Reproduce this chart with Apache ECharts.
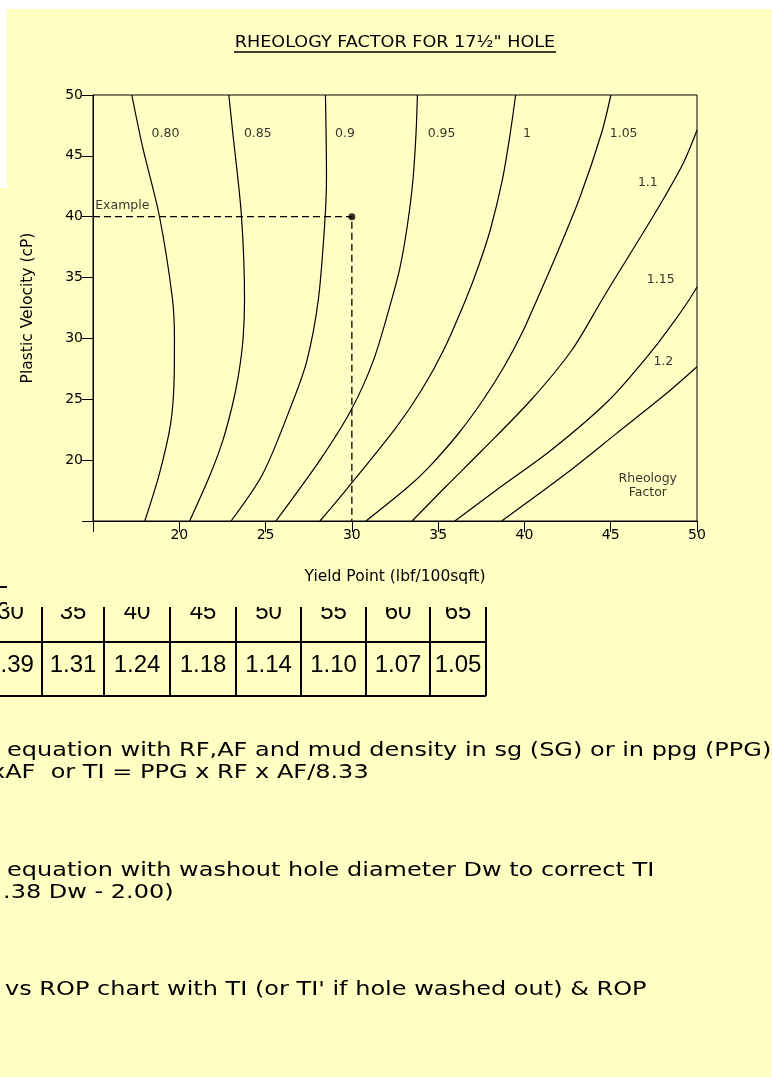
<!DOCTYPE html>
<html>
<head>
<meta charset="utf-8">
<script src="https://cdn.jsdelivr.net/npm/echarts@6/dist/echarts.min.js"></script>
<style>
  html, body { margin: 0; padding: 0; background: #FFFFC4; }
  #chart { width: 772px; height: 1077px; }
</style>
</head>
<body>
<div id="chart"></div>
<script>
// Rheology factor contours, each point is [yield point (lbf/100sqft), plastic viscosity (cP)]
const rf080 = [[17.25,50],[17.87,45.75],[18.84,40.1],[19.6,33.3],[19.72,30],[19.7,26.6],[19.5,23],[18.85,18.9],[18.0,15]];
const rf085 = [[22.87,50],[23.1,46.9],[23.6,40.1],[23.78,33.16],[23.69,29.87],[23.43,26.99],[23.08,24.53],[22.53,21.65],[21.78,18.78],[20.6,15]];
const rf090 = [[28.47,50],[28.53,43.3],[28.43,39.5],[28.05,33.1],[27.4,28.2],[26.6,24.9],[24.85,18.9],[23.0,15]];
const rf095 = [[33.8,50],[33.72,46.9],[33.54,43.02],[33.22,39.32],[32.8,35.9],[32.3,33.15],[31.25,28.2],[29.95,24.1],[28.15,20],[25.6,15]];
const rf100 = [[39.49,50],[39.18,46.88],[38.72,43.02],[38.02,38.91],[37.32,35.87],[36.59,33.16],[35.32,29.05],[34.04,25.76],[32.58,22.72],[29.8,17.79],[28.15,15]];
const rf105 = [[45.01,50],[44.47,46.88],[43.22,41.62],[41.9,37.02],[40.72,33.16],[39.86,30.44],[38.81,27.65],[37.6,24.94],[36.2,22.23],[34.47,19.43],[33.25,17.79],[30.82,15]];
const rf110 = [[50,47.1],[49.21,44.41],[48.12,41.62],[46.87,38.66],[45.19,34.8],[44.49,33.16],[42.75,29.05],[40.38,24.94],[37.57,20.83],[35.42,17.79],[33.49,15]];
const rf115 = [[50,34.22],[49.54,33.16],[48.73,31.51],[47.43,29.05],[44.91,24.94],[41.56,20.83],[38.61,17.79],[35.97,15]];
const rf120 = [[50,27.67],[48.24,25.49],[45.34,22.2],[42.44,18.92],[38.68,15]];

const curves = [rf080, rf085, rf090, rf095, rf100, rf105, rf110, rf115, rf120];

// Contour labels: [yield point, plastic viscosity, text]
const curveLabels = [
  [19.2, 46.85, '0.80'],
  [24.55, 46.85, '0.85'],
  [29.6, 46.85, '0.9'],
  [35.2, 46.85, '0.95'],
  [40.15, 46.85, '1'],
  [45.75, 46.85, '1.05'],
  [47.15, 42.75, '1.1'],
  [47.9, 34.8, '1.15'],
  [48.05, 28.1, '1.2'],
  [47.15, 17.9, 'Rheology\nFactor']
];

// Worked example: YP 30, PV 40
const examplePoint = [30, 40];
const exampleLabel = [16.7, 40.9, 'Example'];

// Tabulated rheology factor by yield point
const tableYieldPoint = [30, 35, 40, 45, 50, 55, 60, 65];
const tableRF = [1.39, 1.31, 1.24, 1.18, 1.14, 1.10, 1.07, 1.05];

// Notes under the table
const noteLines = [
  'equation with RF,AF and mud density in sg (SG) or in ppg (PPG)',
  'xAF  or TI = PPG x RF x AF/8.33',
  'equation with washout hole diameter Dw to correct TI',
  '.38 Dw - 2.00)',
  "vs ROP chart with TI (or TI' if hole washed out) & ROP"
];

const FONT = '"DejaVu Sans", sans-serif';
const BG = '#FFFFC4';

const chart = echarts.init(document.getElementById('chart'), null, { renderer: 'canvas' });

// ---- table and notes (graphic layer) ----
const colEdges = [-21, 42, 104, 170, 236, 301, 366, 430, 486];
const rowLines = [587, 642, 696];
const graphics = [];

rowLines.forEach(y => {
  graphics.push({ type: 'line', z: -3, shape: { x1: colEdges[0], y1: y, x2: colEdges[colEdges.length - 1], y2: y },
    style: { stroke: '#000', lineWidth: 2 } });
});
colEdges.forEach(x => {
  graphics.push({ type: 'line', z: -3, shape: { x1: x, y1: rowLines[0], x2: x, y2: rowLines[2] },
    style: { stroke: '#000', lineWidth: 2 } });
});
tableYieldPoint.forEach((v, i) => {
  const cx = (colEdges[i] + colEdges[i + 1]) / 2;
  graphics.push({ type: 'text', z: -3, x: cx, y: 612.5,
    style: { text: String(v), fontSize: 24, fontFamily: '"Liberation Sans", Arial, sans-serif', fill: '#000', align: 'center', verticalAlign: 'middle' } });
  graphics.push({ type: 'text', z: -3, x: cx, y: 665,
    style: { text: tableRF[i].toFixed(2), fontSize: 24, fontFamily: '"Liberation Sans", Arial, sans-serif', fill: '#000', align: 'center', verticalAlign: 'middle' } });
});

// chart panel sits over the top of the table
graphics.push({ type: 'rect', z: -1, shape: { x: 7, y: 9, width: 765, height: 598 }, style: { fill: BG } });
graphics.push({ type: 'rect', z: -1, shape: { x: 0, y: 0, width: 772, height: 9 }, style: { fill: '#FFFFFF' } });
graphics.push({ type: 'rect', z: -1, shape: { x: 0, y: 0, width: 7, height: 188 }, style: { fill: '#FFFFFF' } });

const noteX = [7, -9, 7, 3, 5];
const noteY = [751, 773, 871, 893, 990];
noteLines.forEach((t, i) => {
  graphics.push({ type: 'text', z: 5, x: noteX[i], y: noteY[i], scaleX: 1.2,
    style: { text: t, fontSize: 20, fontFamily: FONT, fill: '#000', align: 'left', verticalAlign: 'middle' } });
});

// title with underline
graphics.push({ type: 'text', z: 5, x: 395, y: 43, scaleX: 1.1,
  style: { text: 'RHEOLOGY FACTOR FOR 17\u00BD" HOLE', fontSize: 16, fontFamily: FONT, fill: '#000', align: 'center', verticalAlign: 'middle' } });
graphics.push({ type: 'line', z: 5, shape: { x1: 234, y1: 52, x2: 556, y2: 52 }, style: { stroke: '#000', lineWidth: 1.5 } });

// ---- series ----
const series = curves.map(c => ({
  type: 'line',
  data: c,
  showSymbol: false,
  symbol: 'none',
  smooth: 0.3,
  silent: true,
  lineStyle: { color: '#000', width: 1.2 },
  z: 3
}));

// dashed guide from the PV axis to the example point and down to the YP axis
series.push({
  type: 'line',
  data: [[15, examplePoint[1]], examplePoint, [examplePoint[0], 15]],
  showSymbol: false,
  symbol: 'none',
  silent: true,
  lineStyle: { color: '#000', width: 1.3, type: [7, 4] },
  z: 3
});

series.push({
  type: 'scatter',
  data: [examplePoint],
  symbol: 'circle',
  symbolSize: 7,
  itemStyle: { color: '#000' },
  silent: true,
  z: 4
});

series.push({
  type: 'scatter',
  data: curveLabels.concat([exampleLabel]).map(l => ({ value: [l[0], l[1]], name: l[2] })),
  symbolSize: 0.01,
  itemStyle: { color: 'rgba(0,0,0,0)' },
  silent: true,
  z: 4,
  label: {
    show: true,
    position: 'inside',
    formatter: '{b}',
    color: '#000',
    fontFamily: FONT,
    fontSize: 12.5,
    lineHeight: 14,
    align: 'center'
  }
});

const axisCommon = {
  type: 'value',
  min: 15,
  max: 50,
  interval: 5,
  axisLine: { show: true, onZero: false, lineStyle: { color: '#000', width: 1 } },
  axisTick: { show: true, length: 11, lineStyle: { color: '#000', width: 1 } },
  splitLine: { show: false },
  nameLocation: 'middle',
  nameTextStyle: { color: '#000', fontFamily: FONT, fontSize: 15.5 }
};

chart.setOption({
  animation: false,
  backgroundColor: BG,
  textStyle: { fontFamily: FONT },
  grid: { left: 93, right: 75, top: 95, bottom: 556, show: true, borderColor: '#000', borderWidth: 1, backgroundColor: 'transparent' },
  xAxis: Object.assign({}, axisCommon, {
    name: 'Yield Point (lbf/100sqft)',
    nameGap: 48,
    axisLabel: { color: '#000', fontFamily: FONT, fontSize: 14, margin: 7,
      formatter: v => (v === 15 ? '' : String(v)) }
  }),
  yAxis: Object.assign({}, axisCommon, {
    name: 'Plastic Velocity (cP)',
    nameGap: 57,
    axisLabel: { color: '#000', fontFamily: FONT, fontSize: 14, margin: 10,
      formatter: v => (v === 15 ? '' : String(v)) }
  }),
  graphic: { elements: graphics },
  series: series
});
</script>
</body>
</html>
